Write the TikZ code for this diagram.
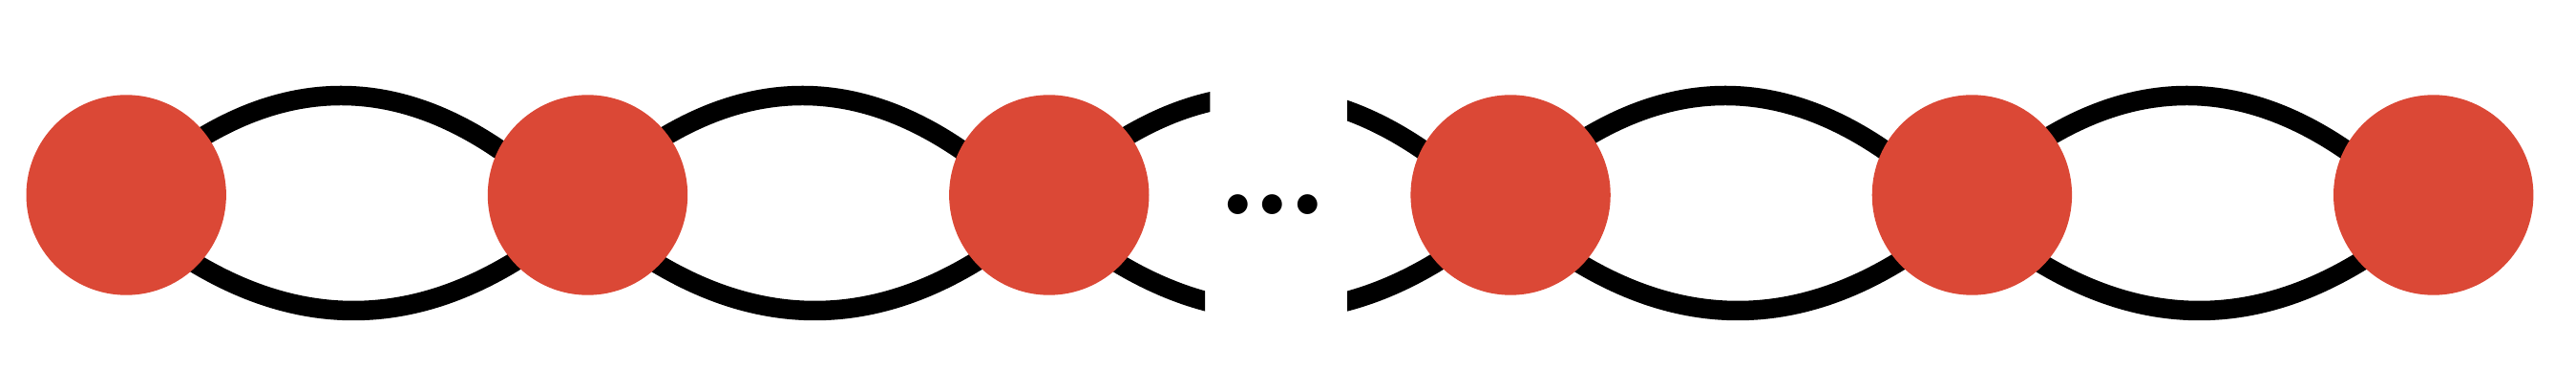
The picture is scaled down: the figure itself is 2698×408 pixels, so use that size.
\documentclass[tikz,border=0pt]{standalone}
\usetikzlibrary{backgrounds}
\definecolor{ballred}{RGB}{219,72,54}
\tikzset{
  ball/.style={circle, fill=ballred, draw=none, inner sep=0pt, minimum size=20.94pt},
  strand/.style={draw=black, line width=2.05pt},
  ellip/.style={inner sep=0pt, anchor=base, scale=1.336, font=\bfseries},
}
\begin{document}
\begin{tikzpicture}[x=0.1pt,y=0.1pt]
\useasboundingbox (0,0) rectangle (2698,408);
% balls
\node[ball] (c1) at (132.2,204) {};
\node[ball] (c2) at (615.5,204) {};
\node[ball] (c3) at (1098.8,204) {};
\node[ball] (c4) at (1582.1,204) {};
\node[ball] (c5) at (2065.4,204) {};
\node[ball] (c6) at (2548.7,204) {};
% ellipsis
\node[ellip] (dots) at (1333,183.6) {.\kern-0.48pt.\kern-0.48pt.};
% strands
\begin{scope}[on background layer]
\foreach \a/\b in {1/2,2/3,4/5,5/6}{
  \draw[strand] (c\a.center)
    .. controls ([shift={(150,138.67)}]c\a.center) and ([shift={(300,138.67)}]c\a.center)
    .. ([shift={(-33.3,0)}]c\b.center);
  \draw[strand] ([shift={(0,-19)}]c\a.center)
    .. controls ([shift={(158.67,-155)}]c\a.center) and ([shift={(317.33,-155)}]c\a.center)
    .. ([shift={(-7.3,-19)}]c\b.center);
}
\begin{scope}
  \clip (1000,204) rectangle (1267.3,408) (1000,0) rectangle (1262,204)
        (1411,0) rectangle (1700,408);
  \draw[strand] (c3.center)
    .. controls ([shift={(150,138.67)}]c3.center) and ([shift={(300,138.67)}]c3.center)
    .. ([shift={(-33.3,0)}]c4.center);
  \draw[strand] ([shift={(0,-19)}]c3.center)
    .. controls ([shift={(158.67,-155)}]c3.center) and ([shift={(317.33,-155)}]c3.center)
    .. ([shift={(-7.3,-19)}]c4.center);
\end{scope}
\end{scope}
\end{tikzpicture}
\end{document}
